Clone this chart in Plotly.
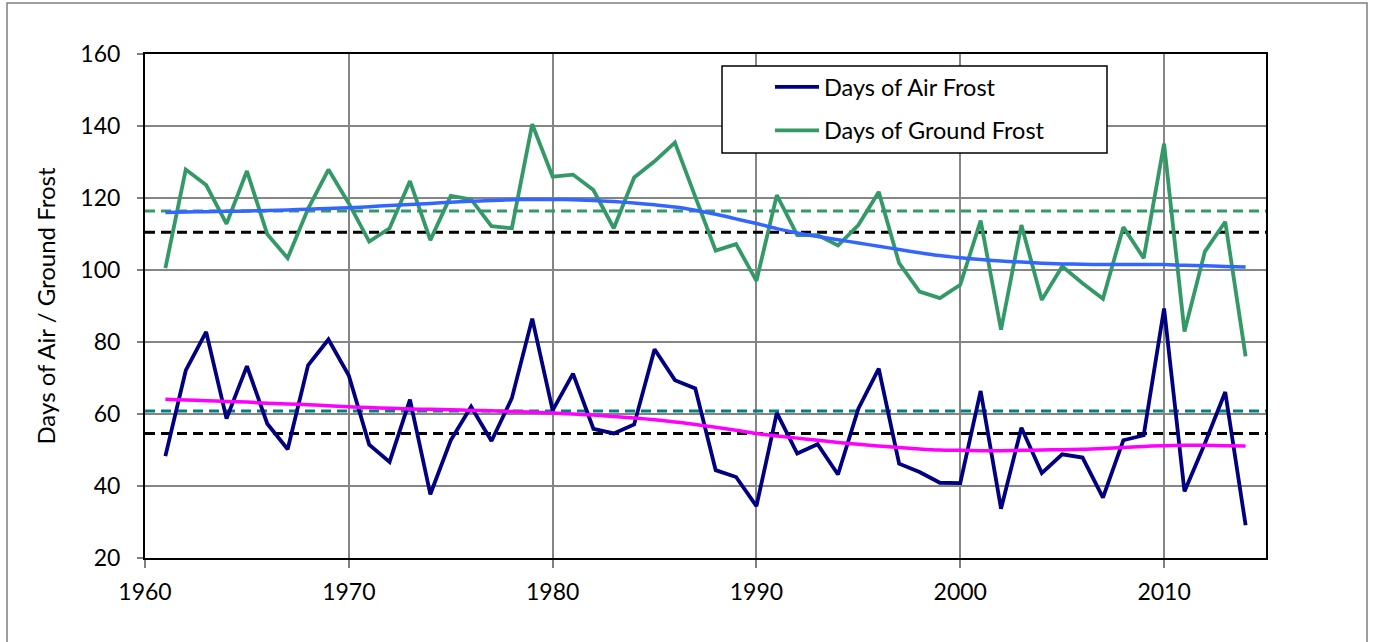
import plotly.graph_objects as go

years = list(range(1961, 2015))

air_frost = [48.3, 72.1, 82.8, 58.7, 73.3, 57.3, 50.2, 73.5, 80.7, 70.7,
             51.5, 46.7, 64.0, 37.7, 52.7, 62.0, 52.5, 64.4, 86.5, 61.0,
             71.2, 55.9, 54.6, 57.1, 78.0, 69.4, 67.1, 44.4, 42.5, 34.4,
             60.3, 49.0, 51.6, 43.2, 61.5, 72.6, 46.2, 43.9, 40.9, 40.8,
             66.4, 33.7, 56.2, 43.6, 48.8, 47.9, 36.8, 52.7, 54.1, 89.3,
             38.5, 51.8, 66.1, 29.1]

ground_frost = [100.5, 127.9, 123.6, 112.8, 127.5, 109.9, 103.3, 117.0, 127.9, 118.5,
                107.9, 111.6, 124.7, 108.3, 120.6, 119.6, 112.2, 111.6, 140.5, 125.9,
                126.5, 122.2, 111.6, 125.7, 130.2, 135.4, 120.3, 105.4, 107.2, 97.0,
                120.8, 109.7, 109.7, 106.8, 112.5, 121.7, 101.9, 94.0, 92.2, 95.9,
                113.7, 83.4, 112.5, 91.7, 101.0, 96.3, 92.0, 111.9, 103.3, 135.1,
                82.9, 105.1, 113.4, 76.0]

ground_trend = [116.0, 116.1, 116.2, 116.3, 116.4, 116.5, 116.7, 116.9, 117.1, 117.3,
                117.6, 117.9, 118.2, 118.5, 118.8, 119.1, 119.3, 119.5, 119.6, 119.6,
                119.5, 119.3, 119.0, 118.6, 118.1, 117.5, 116.6, 115.5, 114.2, 112.9,
                111.5, 110.3, 109.3, 108.4, 107.5, 106.6, 105.7, 104.8, 104.0, 103.4,
                102.9, 102.5, 102.2, 101.9, 101.7, 101.6, 101.5, 101.5, 101.5, 101.5,
                101.3, 101.2, 101.0, 100.8]

air_trend = [64.1, 63.9, 63.7, 63.5, 63.3, 63.0, 62.8, 62.6, 62.3, 62.0,
             61.8, 61.6, 61.4, 61.3, 61.2, 61.0, 60.9, 60.7, 60.5, 60.3,
             60.0, 59.7, 59.3, 58.9, 58.4, 57.8, 57.1, 56.3, 55.5, 54.6,
             53.9, 53.3, 52.7, 52.1, 51.6, 51.1, 50.7, 50.3, 50.0, 49.9,
             49.8, 49.8, 49.9, 50.0, 50.1, 50.2, 50.4, 50.7, 51.0, 51.2,
             51.3, 51.3, 51.2, 51.1]

ground_mean_recent = 116.4
ground_mean_ref = 110.5
air_mean_recent = 60.8
air_mean_ref = 54.6

x_span = [1960, 2015]
x_ticks = [1960, 1970, 1980, 1990, 2000, 2010]
y_ticks = [20, 40, 60, 80, 100, 120, 140, 160]

NAVY = "#000080"
GREEN = "#339966"
BLUE = "#3366FF"
MAGENTA = "#FF00FF"
TEAL = "#008080"
FONT = "Lato"

W, H = 1375, 642
L, R, T, B = 145, 1266, 54, 558


def px_x(p):
    return (p - L) / (R - L)


def px_y(p):
    return (B - p) / (B - T)


fig = go.Figure()

# reference / mean dashed lines
for val, col in [(ground_mean_ref, "black"), (air_mean_ref, "black"),
                 (ground_mean_recent, GREEN), (air_mean_recent, TEAL)]:
    fig.add_trace(go.Scatter(x=x_span, y=[val, val], mode="lines",
                             line=dict(color=col, width=3, dash="10px,6px"),
                             showlegend=False, hoverinfo="skip"))

fig.add_trace(go.Scatter(x=years, y=air_frost, mode="lines", name="Days of Air Frost",
                         line=dict(color=NAVY, width=3.8), legendgroup="a"))
fig.add_trace(go.Scatter(x=years, y=ground_frost, mode="lines", name="Days of Ground Frost",
                         line=dict(color=GREEN, width=3.8), legendgroup="g"))
fig.add_trace(go.Scatter(x=years, y=ground_trend, mode="lines", line=dict(color=BLUE, width=3.5, shape="spline"),
                         showlegend=False, hoverinfo="skip"))
fig.add_trace(go.Scatter(x=years, y=air_trend, mode="lines", line=dict(color=MAGENTA, width=3.5, shape="spline"),
                         showlegend=False, hoverinfo="skip"))

shapes = [
    # outer chart border
    dict(type="rect", xref="paper", yref="paper",
         x0=px_x(7), x1=px_x(1367), y0=px_y(646), y1=px_y(3),
         line=dict(color="#7f7f7f", width=1.5), fillcolor="rgba(0,0,0,0)", layer="below"),
    # legend box
    dict(type="rect", xref="paper", yref="paper",
         x0=px_x(722), x1=px_x(1107), y0=px_y(153), y1=px_y(66),
         line=dict(color="black", width=1.5), fillcolor="white", layer="above"),
]

fig.update_layout(
    width=W, height=H,
    margin=dict(l=L, r=W - R, t=T, b=H - B, pad=0),
    paper_bgcolor="white", plot_bgcolor="white",
    font=dict(family=FONT, size=23, color="black"),
    shapes=shapes,
    showlegend=True,
    legend=dict(x=px_x(770), y=px_y(65), xanchor="left", yanchor="top",
                bgcolor="rgba(0,0,0,0)", borderwidth=0,
                font=dict(family=FONT, size=23.5, color="black"),
                tracegroupgap=10, itemwidth=44, traceorder="grouped"),
    xaxis=dict(range=x_span, tickvals=x_ticks, ticks="outside", ticklen=8,
               tickcolor="#808080", tickwidth=1.5,
               showgrid=True, gridcolor="#858585", gridwidth=1.5,
               showline=True, linecolor="black", linewidth=2, mirror=True,
               zeroline=False, tickfont=dict(size=23), ticklabelstandoff=4),
    yaxis=dict(range=[20, 160], tickvals=y_ticks, ticks="outside", ticklen=6,
               tickcolor="#808080", tickwidth=1.5,
               showgrid=True, gridcolor="#858585", gridwidth=1.5,
               showline=True, linecolor="black", linewidth=2, mirror=True,
               zeroline=False, tickfont=dict(size=23), ticklabelstandoff=12,
               title=dict(text="Days of Air / Ground Frost", font=dict(size=24), standoff=18)),
)

fig.write_html("out.html")
